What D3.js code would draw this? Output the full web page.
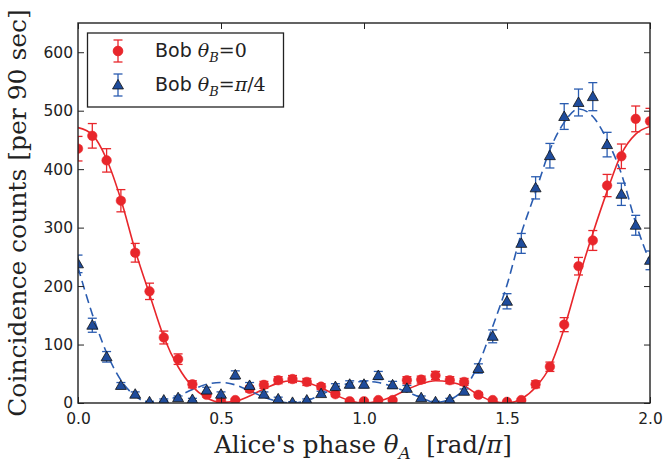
<!DOCTYPE html>
<html><head><meta charset="utf-8">
<script src="https://cdn.jsdelivr.net/npm/d3@7"></script>
<style>body{margin:0;background:#fff;} svg{display:block;}</style>
</head><body><svg id="c" width="668" height="468"></svg>
<script>
// Alice's phase (rad/pi)
const phases = [0,0.05,0.1,0.15,0.2,0.25,0.3,0.35,0.4,0.45,0.5,0.55,0.6,0.65,0.7,0.75,0.8,0.85,0.9,0.95,1.0,
  1.05,1.1,1.15,1.2,1.25,1.3,1.35,1.4,1.45,1.5,1.55,1.6,1.65,1.7,1.75,1.8,1.85,1.9,1.95,2.0];
// Bob theta_B = 0 : measured counts and error bars
const bobZeroCounts = [435,457,415,346,257,191,112,75,32,14,4,5,24,31,39,41,36,28,15,3,3,
  5,5,39,40,47,39,36,14,5,2,5,32,62,134,234,278,372,422,486,482];
const bobZeroErr = [21,21,20,19,16,14,11,9,6,4,2,2,5,6,6,6,6,5,4,2,2,
  2,2,6,6,7,6,6,4,2,1,2,6,8,12,15,17,19,21,22,22];
// Bob theta_B = pi/4 : measured counts and error bars
const bobPi4Counts = [238,133,79,30,15,2,5,9,6,22,15,48,30,15,7,1,5,16,28,32,32,
  47,31,25,9,2,6,20,59,114,174,273,368,423,490,514,524,442,357,304,244];
const bobPi4Err = [15,12,9,5,4,1,2,3,2,5,4,7,5,4,3,1,2,4,5,6,6,
  7,6,5,3,1,2,4,8,11,13,17,19,21,22,23,24,21,19,17,16];
// fitted curves at the same phases
const bobZeroFit = [471,459,417,348,261,186,113,62,28,9,1,3,12,24,34,38,35,26,14,4,0,
  3,11,23,33,38,36,29,14,3,0,7,27,62,128,212,290,362,426,460,473];
const bobPi4Fit = [232,152,86,39,12,1,3,12,23,32,35,31,21,10,3,0,4,14,26,34,37,
  35,28,19,9,1,6,24,66,131,202,290,361,433,480,503,490,450,392,308,240];
const xTicks = [0,0.5,1.0,1.5,2.0];
const yTicks = [0,100,200,300,400,500,600];
const legendLabels = ["Bob", "Bob"];

const RED = "#e8262b", BLUE_LINE = "#2a5cb0", BLUE_FILL = "#1f4c9c", INK = "#222";
const svg = d3.select("#c");
const L = 78, R = 650, T = 23, B = 403;
const x = d3.scaleLinear().domain([0, 2]).range([L, R]);
const y = d3.scaleLinear().domain([0, 650]).range([B, T]);

svg.append("defs").append("clipPath").attr("id", "clip")
  .append("rect").attr("x", L).attr("y", T).attr("width", R - L).attr("height", B - T);

const plot = svg.append("g").attr("clip-path", "url(#clip)");
const line = d3.line().x((d, i) => x(phases[i])).y(d => y(d)).curve(d3.curveMonotoneX);

plot.append("path").datum(bobZeroFit).attr("d", line)
  .attr("fill", "none").attr("stroke", RED).attr("stroke-width", 1.6);
plot.append("path").datum(bobPi4Fit).attr("d", line)
  .attr("fill", "none").attr("stroke", BLUE_LINE).attr("stroke-width", 1.6)
  .attr("stroke-dasharray", "9,5");

function errorBars(g, counts, errs, color) {
  const eb = g.append("g").attr("stroke", color).attr("stroke-width", 1.3);
  counts.forEach((v, i) => {
    const cx = x(phases[i]), y1 = y(v + errs[i]), y0 = y(Math.max(0, v - errs[i]));
    eb.append("line").attr("x1", cx).attr("x2", cx).attr("y1", y0).attr("y2", y1);
    eb.append("line").attr("x1", cx - 4.5).attr("x2", cx + 4.5).attr("y1", y1).attr("y2", y1);
    eb.append("line").attr("x1", cx - 4.5).attr("x2", cx + 4.5).attr("y1", y0).attr("y2", y0);
  });
}
errorBars(plot, bobZeroCounts, bobZeroErr, RED);
plot.append("g").selectAll("circle").data(bobZeroCounts).join("circle")
  .attr("cx", (d, i) => x(phases[i])).attr("cy", d => y(d)).attr("r", 4.8)
  .attr("fill", RED).attr("stroke", RED).attr("stroke-width", 0.5);

errorBars(plot, bobPi4Counts, bobPi4Err, BLUE_LINE);
const tri = d3.symbol(d3.symbolTriangle).size(52);
plot.append("g").selectAll("path").data(bobPi4Counts).join("path")
  .attr("d", tri)
  .attr("transform", (d, i) => `translate(${x(phases[i])},${y(d) + 0.8})`)
  .attr("fill", BLUE_FILL).attr("stroke", "#111").attr("stroke-width", 0.8);

// axes (ticks inward on all four sides)
const tickFont = "DejaVu Sans, sans-serif";
function styleAxis(g) {
  g.select(".domain").remove();
  g.selectAll(".tick line").attr("stroke", INK).attr("stroke-width", 1);
  g.selectAll("text").attr("fill", INK).style("font-family", tickFont).style("font-size", "15.5px");
}
svg.append("g").attr("transform", `translate(0,${B})`)
  .call(d3.axisBottom(x).tickValues(xTicks).tickFormat(d3.format(".1f")).tickSize(-6).tickPadding(10))
  .call(styleAxis);
svg.append("g").attr("transform", `translate(0,${T})`)
  .call(d3.axisTop(x).tickValues(xTicks).tickFormat("").tickSize(-6))
  .call(styleAxis);
svg.append("g").attr("transform", `translate(${L},0)`)
  .call(d3.axisLeft(y).tickValues(yTicks).tickFormat(d3.format("d")).tickSize(-6).tickPadding(5))
  .call(styleAxis);
svg.append("g").attr("transform", `translate(${R},0)`)
  .call(d3.axisRight(y).tickValues(yTicks).tickFormat("").tickSize(-6))
  .call(styleAxis);

svg.append("rect").attr("x", L).attr("y", T).attr("width", R - L).attr("height", B - T)
  .attr("fill", "none").attr("stroke", INK).attr("stroke-width", 1.4);

// axis labels
const serif = "DejaVu Serif, serif";
const xl = svg.append("text").attr("x", (L + R) / 2 - 1).attr("y", 453).attr("text-anchor", "middle")
  .attr("fill", INK).style("font-family", serif).style("font-size", "24.5px").style("white-space", "pre");
xl.append("tspan").text("Alice's phase ");
xl.append("tspan").style("font-style", "italic").text("θ");
xl.append("tspan").attr("dy", 6).style("font-size", "17px").style("font-style", "italic").text("A");
xl.append("tspan").attr("dy", -6).text("  [rad/");
xl.append("tspan").style("font-style", "italic").text("π");
xl.append("tspan").text("]");

svg.append("text").attr("transform", `translate(26,${(T + B) / 2}) rotate(-90)`)
  .attr("text-anchor", "middle").attr("fill", INK)
  .style("font-family", serif).style("font-size", "25px")
  .text("Coincidence counts [per 90 sec]");

// legend
const lg = svg.append("g");
lg.append("rect").attr("x", 87.5).attr("y", 33).attr("width", 196).attr("height", 74)
  .attr("fill", "#fff").attr("stroke", INK).attr("stroke-width", 1.3);
const rows = [
  {cy: 51, color: RED, base: 57, sub: "=0", marker: "circle"},
  {cy: 85, color: BLUE_LINE, base: 91, sub: "=π/4", marker: "tri"}
];
rows.forEach((r, k) => {
  const mx = 118;
  const e = lg.append("g").attr("stroke", r.color).attr("stroke-width", 1.3);
  e.append("line").attr("x1", mx).attr("x2", mx).attr("y1", r.cy - 11).attr("y2", r.cy + 11);
  e.append("line").attr("x1", mx - 4.5).attr("x2", mx + 4.5).attr("y1", r.cy - 11).attr("y2", r.cy - 11);
  e.append("line").attr("x1", mx - 4.5).attr("x2", mx + 4.5).attr("y1", r.cy + 11).attr("y2", r.cy + 11);
  if (r.marker === "circle") {
    lg.append("circle").attr("cx", mx).attr("cy", r.cy).attr("r", 4.8).attr("fill", RED).attr("stroke", RED);
  } else {
    lg.append("path").attr("d", tri).attr("transform", `translate(${mx},${r.cy + 0.8})`)
      .attr("fill", BLUE_FILL).attr("stroke", "#111").attr("stroke-width", 0.8);
  }
  const t = lg.append("text").attr("x", 155).attr("y", r.base).attr("fill", INK).style("font-size", "19px");
  t.append("tspan").style("font-family", tickFont).text(legendLabels[k] + " ");
  t.append("tspan").style("font-family", serif).style("font-style", "italic").text("θ");
  t.append("tspan").attr("dy", 5).style("font-family", serif).style("font-style", "italic")
    .style("font-size", "13px").text("B");
  const rest = t.append("tspan").attr("dy", -5).style("font-family", serif);
  if (r.sub === "=0") rest.text("=0");
  else {
    rest.text("=");
    t.append("tspan").style("font-family", serif).style("font-style", "italic").text("π");
    t.append("tspan").style("font-family", serif).text("/4");
  }
});
</script>
</body></html>
